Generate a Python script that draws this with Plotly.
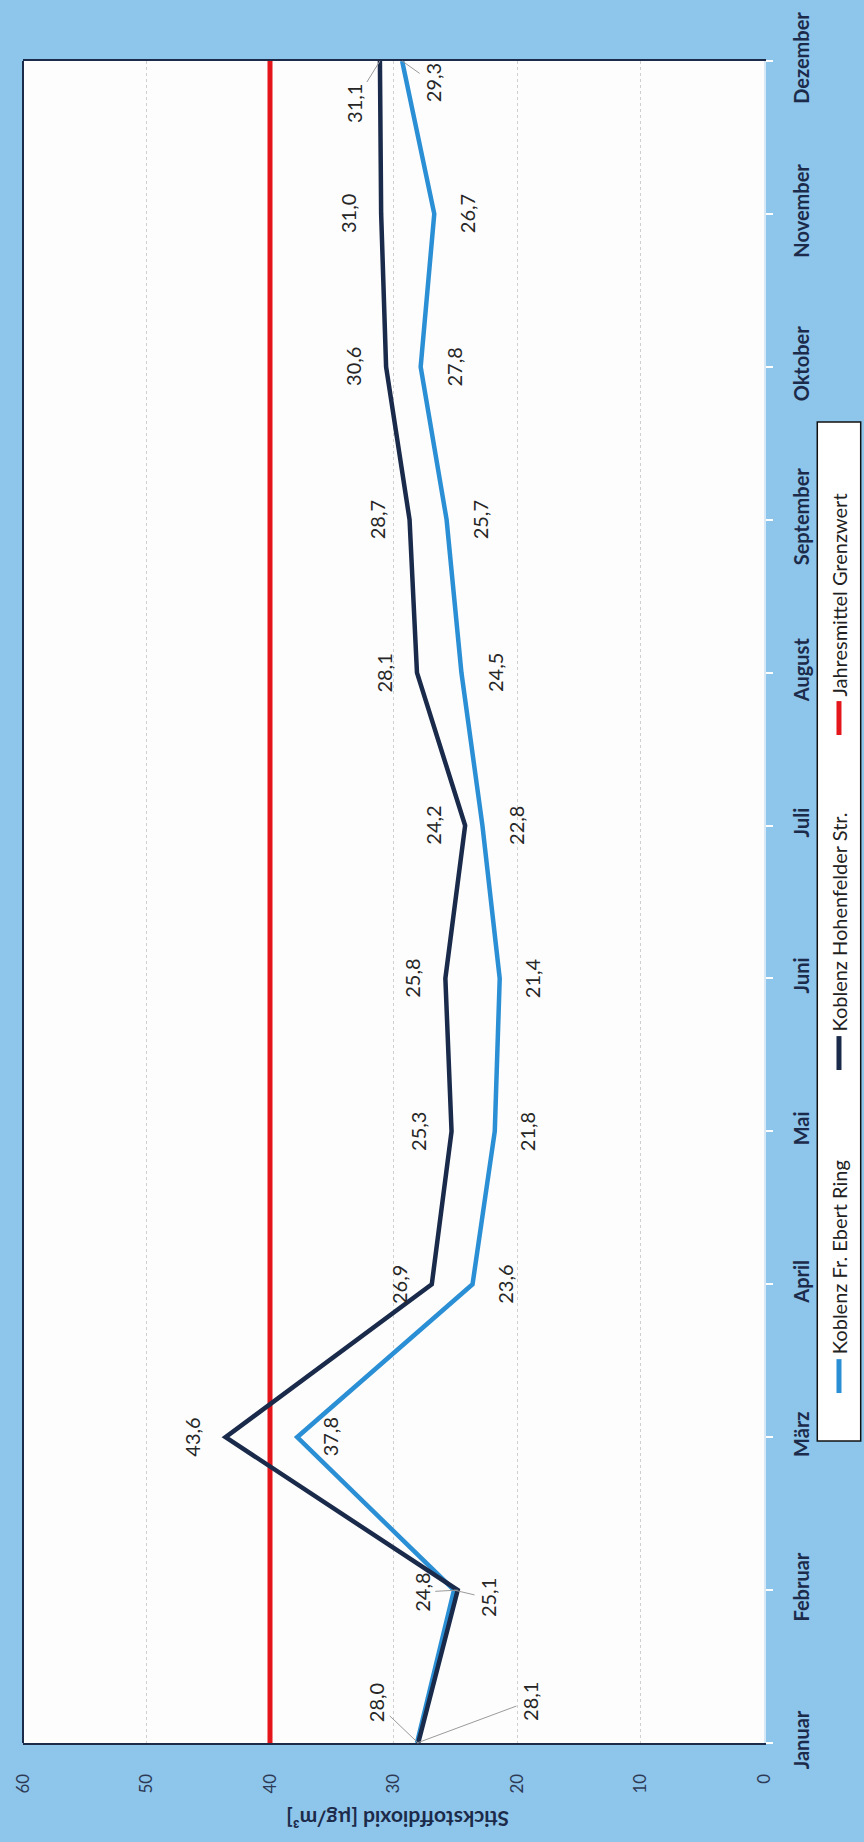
import plotly.graph_objects as go

# ---------------- data ----------------
months = ["Januar", "Februar", "März", "April", "Mai", "Juni", "Juli",
          "August", "September", "Oktober", "November", "Dezember"]
ebert = [28.1, 25.1, 37.8, 23.6, 21.8, 21.4, 22.8, 24.5, 25.7, 27.8, 26.7, 29.3]
hohen = [28.0, 24.8, 43.6, 26.9, 25.3, 25.8, 24.2, 28.1, 28.7, 30.6, 31.0, 31.1]
grenz = [40, 40, 40, 40, 40, 40, 40, 40, 40, 40, 40, 40]
value_ticks = [0, 10, 20, 30, 40, 50, 60]
series_names = ["Koblenz Fr. Ebert Ring", "Koblenz Hohenfelder Str.", "Jahresmittel Grenzwert"]
axis_title = "Stickstoffdioxid [µg/m³]"

# ---------------- styling ----------------
W, H = 864, 1842
L, R, T, B = 13, 764, 56, 1743
FONT = "Lato"
BG = "#8dc5eb"
C_EBERT = "#2a8fd4"
C_HOHEN = "#1a2a4a"
C_GRENZ = "#e5161b"
NAVY = "#1c2b4a"


def xp(px):
    return (px - L) / (R - L)


def yp(py):
    return (B - py) / (B - T)


def fmt(v):
    return f"{v:.1f}".replace(".", ",")


idx = list(range(len(months)))

fig = go.Figure()
fig.add_trace(go.Scatter(x=grenz, y=idx, mode="lines", name=series_names[2],
                         line=dict(color=C_GRENZ, width=5), hoverinfo="skip"))
fig.add_trace(go.Scatter(x=ebert, y=idx, mode="lines", name=series_names[0],
                         line=dict(color=C_EBERT, width=4.5), hoverinfo="skip"))
fig.add_trace(go.Scatter(x=hohen, y=idx, mode="lines", name=series_names[1],
                         line=dict(color=C_HOHEN, width=4.5), hoverinfo="skip"))

annotations = []
lab_font = dict(family=FONT, size=20, color="#262626")

# leader-line labels: (series, month index) -> (ax, ay)
leaders = {
    ("h", 0): (-42, -40), ("e", 0): (113, -42),
    ("h", 1): (-36, 2), ("e", 1): (34, 8),
    ("h", 11): (-26, 42), ("e", 11): (31, 22),
}

for key, vals, shift in (("h", hohen, -33), ("e", ebert, 33)):
    for i, v in enumerate(vals):
        if (key, i) in leaders:
            ax, ay = leaders[(key, i)]
            annotations.append(dict(x=v, y=i, xref="x", yref="y", text=fmt(v),
                                    textangle=-90, font=lab_font, showarrow=True,
                                    arrowhead=0, arrowwidth=1, arrowcolor="#9a9a9a",
                                    ax=ax, ay=ay, standoff=0))
        else:
            annotations.append(dict(x=v, y=i, xref="x", yref="y", text=fmt(v),
                                    textangle=-90, font=lab_font, showarrow=False,
                                    xshift=shift))

# axis title (upside down)
annotations.append(dict(x=xp(392), y=yp(1819), xref="paper", yref="paper",
                        text="<b>" + axis_title + "</b>", textangle=180, showarrow=False,
                        xanchor="center", yanchor="middle",
                        font=dict(family=FONT, size=21, color=NAVY)))

# manual rotated legend
shapes = [
    dict(type="line", xref="paper", yref="paper", x0=0, x1=0, y0=0, y1=1,
         line=dict(color=NAVY, width=2)),
    dict(type="rect", xref="paper", yref="paper", x0=xp(818), x1=xp(862),
         y0=yp(1440), y1=yp(418), line=dict(color="#111111", width=1.5),
         fillcolor="white"),
]
legend_entries = [
    (series_names[0], C_EBERT, 1392),
    (series_names[1], C_HOHEN, 1068),
    (series_names[2], C_GRENZ, 732),
]
for name, col, mb in legend_entries:
    shapes.append(dict(type="line", xref="paper", yref="paper",
                       x0=xp(840), x1=xp(840), y0=yp(mb), y1=yp(mb - 34),
                       line=dict(color=col, width=5)))
    annotations.append(dict(x=xp(840), y=yp(mb - 37), xref="paper", yref="paper",
                            text=name, textangle=-90, showarrow=False,
                            xanchor="center", yanchor="bottom",
                            font=dict(family=FONT, size=20, color="#222222")))

fig.update_layout(
    width=W, height=H, autosize=False,
    margin=dict(l=L, r=W - R, t=T, b=H - B, pad=0),
    paper_bgcolor=BG, plot_bgcolor="#fdfdfd",
    showlegend=False,
    font=dict(family=FONT, color=NAVY),
    annotations=annotations, shapes=shapes,
    xaxis=dict(range=[60, 0], tickvals=value_ticks, tickangle=-90,
               tickfont=dict(family=FONT, size=17, color="#2d3a55"),
               showgrid=True, gridcolor="#cfcfcf", griddash="dot", gridwidth=1,
               zeroline=False, showline=True, mirror=True, linecolor=NAVY,
               linewidth=2, ticks="", ticklabelstandoff=22, fixedrange=True),
    yaxis=dict(range=[0, 11], tickvals=idx,
               ticktext=["<b>" + m + "</b>" for m in months], side="right",
               tickangle=-90, tickfont=dict(family=FONT, size=20, color=NAVY),
               showgrid=False, zeroline=False, showline=True,
               linecolor="#d6e8f6", linewidth=1.5, ticks="outside",
               ticklen=7, tickcolor="white", tickwidth=2,
               ticklabelstandoff=12, fixedrange=True),
)

fig.write_html(
    "out.html",
    config={"displayModeBar": False},
    post_script="document.body.style.margin='0';document.body.style.overflow='hidden';",
)
